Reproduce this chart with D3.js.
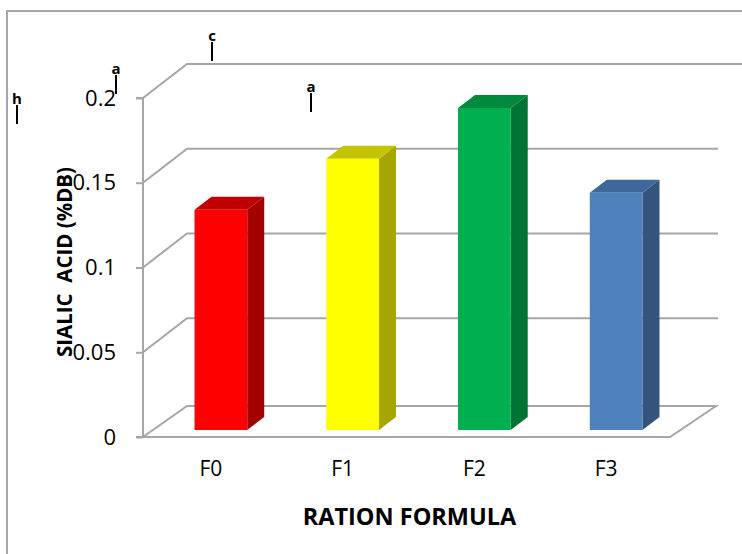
<!DOCTYPE html>
<html>
<head>
<meta charset="utf-8">
<script src="https://cdn.jsdelivr.net/npm/d3@7"></script>
<style>
  body { margin: 0; background: #fff; }
  text { font-family: "Open Sans", "Noto Sans", sans-serif; }
</style>
</head>
<body>
<script>
// data
const categories = ["F0", "F1", "F2", "F3"];
const values = [0.13, 0.16, 0.19, 0.14];
const yTicks = [0, 0.05, 0.1, 0.15, 0.2];
const frontColors = ["#ff0000", "#ffff00", "#00b050", "#4f81bd"];
const sideColors = ["#a30000", "#a6a600", "#007434", "#33547d"];
const topColors = ["#c00000", "#c4c400", "#008a3e", "#3e6899"];
// stray letter marks seen above the plot
const marks = [
    { t: "h", x: 17, y: 105 },
    { t: "a", x: 116, y: 75 },
    { t: "c", x: 212, y: 42 },
    { t: "a", x: 311, y: 93 }
];

const width = 742, height = 554;
const grey = "#a6a6a6";

// 3d offsets
const depth = { dx: 44, dy: -34 };     // back wall vs front plane
const floorD = { dx: 44, dy: -31 };
const barOff = { dx: 12, dy: -7 };     // bar front face inside floor
const barD = { dx: 17, dy: -13 };      // bar own depth

const x = d3.scaleBand()
    .domain(categories)
    .range([143, 670])
    .paddingInner(0.6)
    .paddingOuter(0.3);

const y = d3.scaleLinear()
    .domain([0, 0.2])
    .range([437, 98]);

const svg = d3.select("body").append("svg")
    .attr("width", width)
    .attr("height", height);

// chart frame
svg.append("rect")
    .attr("x", 7).attr("y", 11)
    .attr("width", 800).attr("height", 600)
    .attr("fill", "none")
    .attr("stroke", grey)
    .attr("stroke-width", 2);

const x0 = x.range()[0], x1 = x.range()[1];

// gridlines (front -> back wall)
svg.append("g").selectAll("polyline")
    .data(yTicks.filter(d => d > 0))
    .join("polyline")
        .attr("points", d => {
            const yy = y(d);
            const end = d === 0.2 ? 745 : 718;
            return [[x0, yy], [x0 + depth.dx, yy + depth.dy], [end, yy + depth.dy]].join(" ");
        })
        .attr("fill", "none")
        .attr("stroke", grey)
        .attr("stroke-width", 2);

// floor
svg.append("polygon")
    .attr("points", [
        [x0, y(0)], [x1, y(0)],
        [x1 + floorD.dx + 2, y(0) + floorD.dy],
        [x0 + floorD.dx, y(0) + floorD.dy]
    ].join(" "))
    .attr("fill", "none")
    .attr("stroke", grey)
    .attr("stroke-width", 2);

// y axis
const yAxis = g => g
    .attr("transform", `translate(${x0},0)`)
    .call(d3.axisLeft(y)
        .tickValues(yTicks)
        .tickSize(7)
        .tickPadding(20)
        .tickFormat(d3.format("")))
    .call(g => g.selectAll("line, path").attr("stroke", grey).attr("stroke-width", 2))
    .call(g => g.select(".domain").attr("d", `M-7,${y(0.2)}H0V${y(0)}H-7`))
    .call(g => g.selectAll("text")
        .attr("font-size", 22)
        .attr("fill", "#000")
        .style("font-family", '"Open Sans", sans-serif'));

svg.append("g").call(yAxis);

// bars
const bars = svg.append("g").selectAll("g")
    .data(categories.map((c, i) => ({ c, v: values[i], i })))
    .join("g");

bars.append("polygon") // side
    .attr("points", d => {
        const l = x(d.c) + barOff.dx + x.bandwidth();
        const t = y(d.v) + barOff.dy, b = y(0) + barOff.dy;
        return [[l, t], [l + barD.dx, t + barD.dy], [l + barD.dx, b + barD.dy], [l, b]].join(" ");
    })
    .attr("fill", d => sideColors[d.i]);

bars.append("polygon") // top
    .attr("points", d => {
        const l = x(d.c) + barOff.dx, r = l + x.bandwidth();
        const t = y(d.v) + barOff.dy;
        return [[l, t], [l + barD.dx, t + barD.dy], [r + barD.dx, t + barD.dy], [r, t]].join(" ");
    })
    .attr("fill", d => topColors[d.i]);

bars.append("rect") // front
    .attr("x", d => x(d.c) + barOff.dx)
    .attr("y", d => y(d.v) + barOff.dy)
    .attr("width", x.bandwidth())
    .attr("height", d => y(0) - y(d.v))
    .attr("fill", d => frontColors[d.i]);

// category labels
svg.append("g").selectAll("text")
    .data(categories)
    .join("text")
        .attr("x", d => x(d) + x.bandwidth() / 2 + 2)
        .attr("y", 476)
        .attr("text-anchor", "middle")
        .attr("font-size", 21)
        .text(d => d);

// axis titles
svg.append("text")
    .attr("transform", "translate(72,262) rotate(-90)")
    .attr("text-anchor", "middle")
    .attr("font-size", 20.5)
    .attr("font-weight", "bold")
    .attr("xml:space", "preserve")
    .style("white-space", "pre")
    .text("SIALIC  ACID (%DB)");

svg.append("text")
    .attr("x", (x0 + x1) / 2 + 3)
    .attr("y", 525)
    .attr("text-anchor", "middle")
    .attr("font-size", 23.5)
    .attr("font-weight", "bold")
    .text("RATION FORMULA");

// letter marks
const mk = svg.append("g").selectAll("g")
    .data(marks)
    .join("g")
        .attr("transform", d => `translate(${d.x},${d.y})`);

mk.append("text")
    .attr("y", -1)
    .attr("text-anchor", "middle")
    .attr("font-size", 15)
    .attr("font-weight", "bold")
    .attr("fill", "#000")
    .text(d => d.t);

mk.append("line")
    .attr("y1", 0).attr("y2", 19)
    .attr("stroke", "#000")
    .attr("stroke-width", 2);
</script>
</body>
</html>
